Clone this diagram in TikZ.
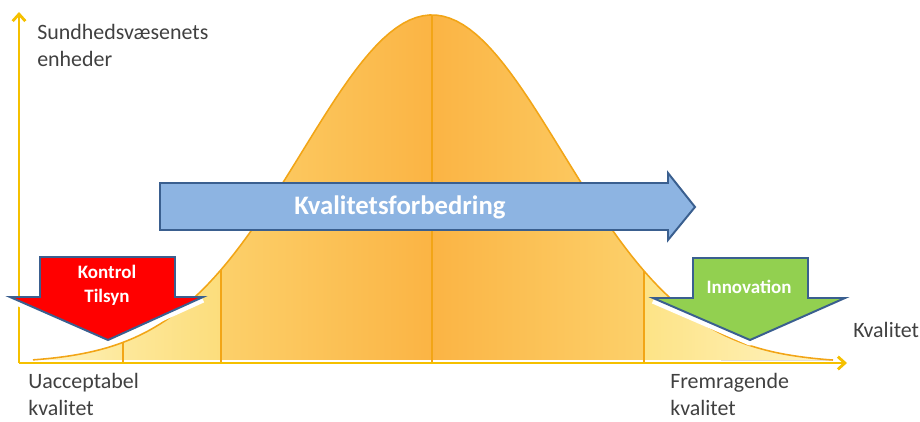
\documentclass[tikz,border=0pt]{standalone}
\usepackage{fontspec}
\setmainfont{Carlito}
\usetikzlibrary{arrows.meta}

\definecolor{axisgold}{HTML}{F5C000}
\definecolor{curveorange}{HTML}{F2A516}
\definecolor{labelgray}{HTML}{404040}
\definecolor{tailpale}{HTML}{FFF4C4}
\definecolor{yelA}{HTML}{FDE89A}
\definecolor{yelB}{HTML}{FCDD7C}
\definecolor{yelC}{HTML}{FCD06A}
\definecolor{peakorange}{HTML}{FBB444}
\definecolor{yelD}{HTML}{FDE386}
\definecolor{arrowblue}{HTML}{3A5F8F}
\definecolor{liftblue}{HTML}{8DB4E2}
\definecolor{controlred}{HTML}{FF0000}
\definecolor{innogreen}{HTML}{92D050}

\begin{document}
\begin{tikzpicture}[
    x=0.025cm, y=-0.025cm,
    axis/.style={draw=axisgold, line width=2pt, -{Straight Barb[length=5pt, width=9pt]}},
    bell/.style={draw=curveorange, line width=1.1pt},
    band/.style={draw=curveorange, line width=1.1pt},
    blockarrow/.style={draw=arrowblue, line width=1.4pt, line join=miter},
    glow/.style={draw=white, line width=4pt, line join=round},
    label/.style={text=labelgray, font=\fontsize{15.6}{19}\selectfont, align=left, inner sep=0pt},
    arrowtext/.style={text=white, font=\bfseries\fontsize{13.5}{17}\selectfont, align=center, inner sep=0pt}
]
\useasboundingbox (0,0) rectangle (920,421);

% shaded bell curve
\begin{scope}
  \clip plot[domain=33:833, samples=120] (\x, {363-348*exp(-((\x-432)/130)^2/2)}) -- cycle;
  \foreach \a/\b/\ca/\cb in {33/123/tailpale/yelA, 123/221/yelA/yelB, 221/432/yelC/peakorange,
                              432/644/peakorange/yelC, 644/833/yelD/tailpale}
    \fill[left color=\ca, right color=\cb] (\a,0) rectangle (\b,363);
\end{scope}
\foreach \xx in {123,221,432,644}{
  \pgfmathsetmacro\yy{363-348*exp(-((\xx-432)/130)^2/2)}
  \draw[band] (\xx,363) -- (\xx,\yy);
}
\draw[bell] plot[domain=33:833, samples=120] (\x, {363-348*exp(-((\x-432)/130)^2/2)});

% axes
\coordinate (origin) at (19,363);
\coordinate (ytop) at (19,12);
\coordinate (xend) at (847,363);
\draw[axis] (origin) -- (ytop);
\draw[axis] (origin) -- (xend);

% quality improvement arrow
\draw[blockarrow, fill=liftblue] (160,183) -- (668,183) -- (668,173) -- (695,207)
  -- (668,240) -- (668,230) -- (160,230) -- cycle;
\node[text=white, font=\bfseries\fontsize{19}{23}\selectfont, inner sep=0pt] (lift) at (400,207) {Kvalitetsforbedring};

% control arrow
\draw[glow, yshift=-2pt] (10,297) -- (108,340) -- (203,297);
\draw[blockarrow, fill=controlred] (40,257) -- (175,257) -- (175,297) -- (203,297)
  -- (108,340) -- (10,297) -- (40,297) -- cycle;
\node[arrowtext] (control) at (107,285) {Kontrol\\Tilsyn};

% innovation arrow
\draw[glow, yshift=-2pt] (653,298) -- (750,340) -- (845,298);
\draw[blockarrow, fill=innogreen] (693,258) -- (808,258) -- (808,298) -- (845,298)
  -- (750,340) -- (653,298) -- (693,298) -- cycle;
\node[arrowtext] (innovation) at (749,287) {Innovation};

% labels (base = last line)
\node[label, anchor=base west] (units) at (37,66) {Sundhedsvæsenets\\enheder};
\node[label, anchor=base west] (quality) at (853,337) {Kvalitet};
\node[label, anchor=base west] (poor) at (28,415) {Uacceptabel\\kvalitet};
\node[label, anchor=base west] (excellent) at (670,415) {Fremragende\\kvalitet};
\end{tikzpicture}
\end{document}
